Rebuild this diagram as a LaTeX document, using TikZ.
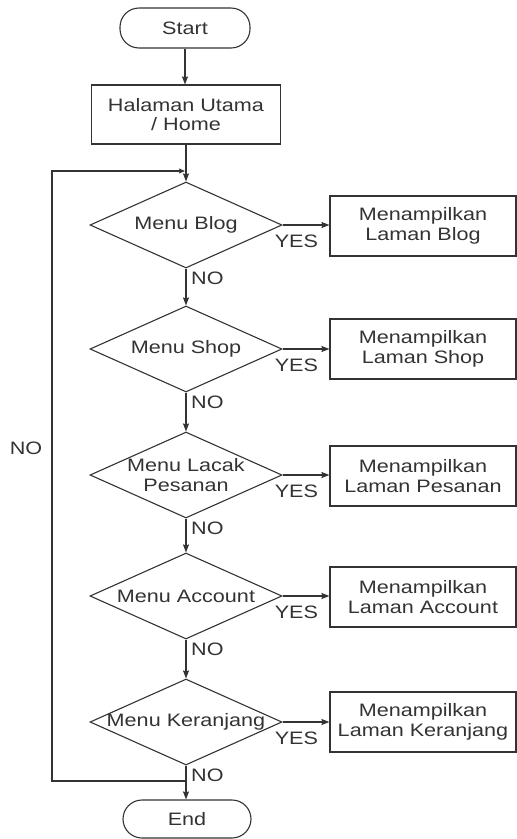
\documentclass[tikz,border=0pt]{standalone}
\usepackage{fontspec}
\setmainfont{Liberation Sans}[FakeStretch=1.2]
\usetikzlibrary{shapes.geometric,arrows.meta}

\definecolor{ink}{HTML}{333333}

\tikzset{
  every node/.style={font=\fontsize{18}{19.5}\selectfont, text=ink},
  line/.style={draw=ink, line width=1.1pt},
  arr/.style={line, -{Stealth[length=8pt,width=6pt,inset=1pt]}},
  terminal/.style={draw=ink, line width=1.1pt, rectangle, rounded corners=19pt,
    minimum width=130pt, minimum height=40pt, inner sep=0pt},
  process/.style={draw=ink, line width=1.1pt, rectangle, align=center,
    minimum width=186pt, minimum height=60pt, inner sep=0pt},
  decision/.style={draw=ink, line width=1.1pt, diamond, minimum width=192pt,
    minimum height=86pt, inner sep=0pt},
  tag/.style={inner sep=0pt}
}

\begin{document}
\begin{tikzpicture}[x=1pt, y=-1pt]
\useasboundingbox (0,0) rectangle (517,839);

% main column
\node[terminal] (start) at (185,28) {Start};
\node[process, minimum width=189pt, minimum height=59pt] (home) at (186,114.5) {Halaman Utama\\/ Home};

\node[decision, label={center:Menu Blog}] (blog) at (186,225) {};
\node[decision, label={center:Menu Shop}] (shop) at (186,349) {};
\node[decision, label={[align=center]center:Menu Lacak\\Pesanan}] (lacak) at (186,475) {};
\node[decision, label={center:Menu Account}] (account) at (186,596) {};
\node[decision, label={center:Menu Keranjang}] (keranjang) at (186,722) {};

\node[terminal, minimum width=128pt, minimum height=38pt] (end) at (187,819) {End};

% result pages
\node[process] (pblog) at (423,226) {Menampilkan\\Laman Blog};
\node[process] (pshop) at (423,349) {Menampilkan\\Laman Shop};
\node[process] (placak) at (423,476) {Menampilkan\\Laman Pesanan};
\node[process] (paccount) at (423,597) {Menampilkan\\Laman Account};
\node[process] (pkeranjang) at (423,722) {Menampilkan\\Laman Keranjang};

% vertical flow
\draw[arr] (start) -- (start |- home.north);
\draw[arr] (home) -- (blog.north);
\draw[arr] (blog.south) -- (shop.north);
\draw[arr] (shop.south) -- (lacak.north);
\draw[arr] (lacak.south) -- (account.north);
\draw[arr] (account.south) -- (keranjang.south |- account.south) -- (keranjang.north);
\draw[arr] (keranjang.south) -- (end.north -| keranjang.south);

% YES branches
\foreach \d/\p in {blog/pblog, shop/pshop, lacak/placak, account/paccount, keranjang/pkeranjang}{
  \draw[arr] (\d.east) -- (\d.east -| \p.west);
  \node[tag, anchor=west] at ([shift={(-8,16)}]\d.east) {YES};
  \node[tag, anchor=west] at ([shift={(5,10)}]\d.south) {NO};
}

% loop back to the first menu
\coordinate (lbr) at (186,781);
\coordinate (lbl) at (52,781);
\coordinate (ltl) at (52,171);
\coordinate (ltr) at (185,171);
\draw[line, -{Stealth[length=6pt,width=5pt,inset=1pt]}] (lbr) -- (lbl) -- (ltl) -- (ltr);
\node[tag] (loopno) at (26,448) {NO};
\end{tikzpicture}
\end{document}
